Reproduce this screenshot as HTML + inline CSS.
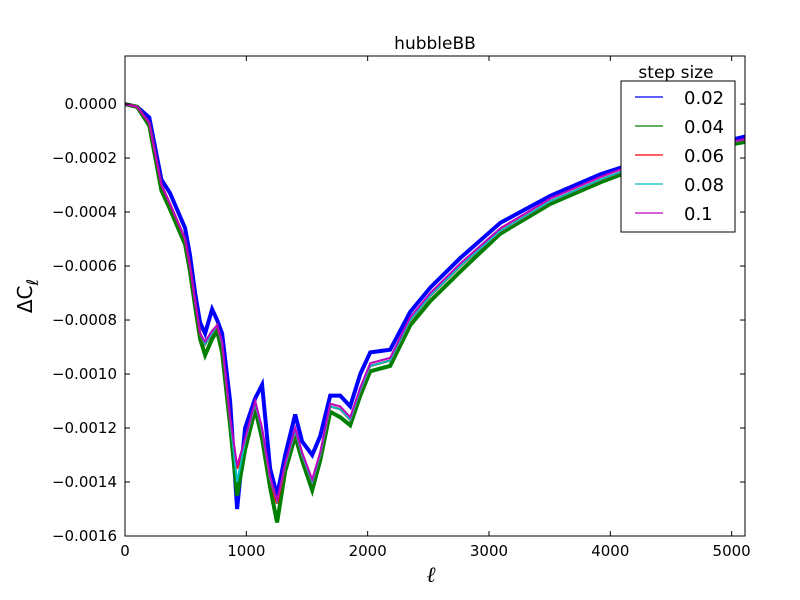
<!DOCTYPE html>
<html><head><meta charset="utf-8"><style>body{margin:0;background:#fff}svg{display:block;font-family:"DejaVu Sans","Liberation Sans",sans-serif}</style></head>
<body>
<svg id="chart" width="800" height="600" viewBox="0 0 800 600">
<rect width="800" height="600" fill="#fff"/>
<text x="435" y="49" font-size="17" text-anchor="middle">hubbleBB</text>
<g id="series"></g>
<g id="axes"></g>
<text x="431" y="582" font-size="22" font-style="italic" text-anchor="middle" font-family="DejaVu Serif, serif">ℓ</text>
<text transform="translate(32,296) rotate(-90)" font-size="20" text-anchor="middle">ΔC<tspan font-style="italic" font-size="16" dy="6">ℓ</tspan></text>
<g id="legend">
<text x="676" y="78" font-size="17" text-anchor="middle">step size</text>
<rect x="621" y="81" width="114" height="151" fill="#fff" stroke="#000" stroke-width="1"/>
</g>
</svg>
<script>
const ells =  [0,100,200,300,371,495,536,578,619,660,718,759,800,866,924,990,1073,1130,1196,1254,1320,1403,1460,1543,1609,1691,1774,1856,1939,2021,2186,2351,2516,2764,3094,3506,3919,4332,4744,5115];
const red =   [0,-0.00001,-0.00007,-0.0003,-0.00037,-0.0005,-0.0006,-0.00073,-0.00085,-0.00089,-0.00085,-0.00082,-0.00089,-0.00117,-0.00135,-0.00125,-0.00111,-0.00121,-0.00139,-0.00148,-0.00134,-0.00121,-0.0013,-0.0014,-0.0013,-0.00112,-0.00113,-0.00117,-0.00106,-0.00097,-0.00095,-0.0008,-0.00071,-0.0006,-0.00047,-0.00036,-0.00028,-0.00021,-0.00017,-0.00013];
const blue =  [0,-0.00001,-0.00005,-0.00028,-0.00033,-0.00046,-0.00056,-0.0007,-0.00081,-0.00085,-0.00076,-0.0008,-0.00085,-0.0011,-0.0015,-0.0012,-0.00109,-0.00104,-0.00135,-0.00145,-0.0013,-0.00115,-0.00125,-0.0013,-0.00123,-0.00108,-0.00108,-0.00112,-0.001,-0.00092,-0.00091,-0.00077,-0.00068,-0.00057,-0.00044,-0.00034,-0.00026,-0.0002,-0.00016,-0.00012];
const green = [0,-0.00001,-0.00008,-0.00032,-0.00039,-0.00052,-0.00062,-0.00075,-0.00087,-0.00093,-0.00087,-0.00084,-0.00092,-0.00119,-0.00145,-0.00128,-0.00113,-0.00124,-0.00142,-0.00155,-0.00136,-0.00123,-0.00132,-0.00143,-0.00132,-0.00114,-0.00116,-0.00119,-0.00108,-0.00099,-0.00097,-0.00082,-0.00073,-0.00062,-0.00048,-0.00037,-0.00029,-0.00022,-0.00017,-0.00014];
const cyan =  [0,-0.00001,-0.00007,-0.0003,-0.00037,-0.0005,-0.0006,-0.00073,-0.00085,-0.00089,-0.00085,-0.00082,-0.00089,-0.00117,-0.0014,-0.00125,-0.00111,-0.00121,-0.00139,-0.00147,-0.00134,-0.00121,-0.0013,-0.0014,-0.0013,-0.00112,-0.00113,-0.00117,-0.00106,-0.00097,-0.00095,-0.0008,-0.00071,-0.0006,-0.00047,-0.00036,-0.00028,-0.00021,-0.00017,-0.00013];
const magenta=[0,-0.00001,-0.00007,-0.0003,-0.00037,-0.0005,-0.0006,-0.00073,-0.00085,-0.00088,-0.00084,-0.00082,-0.00088,-0.00116,-0.00134,-0.00124,-0.0011,-0.0012,-0.00138,-0.00147,-0.00133,-0.0012,-0.00129,-0.00139,-0.00129,-0.00111,-0.00112,-0.00116,-0.00105,-0.00096,-0.00094,-0.00079,-0.0007,-0.00059,-0.00046,-0.00035,-0.00027,-0.0002,-0.00016,-0.00013];
const legendLabels = ["0.02","0.04","0.06","0.08","0.1"];
const colors = ["#0000ff","#008000","#ff0000","#00bfbf","#bf00bf"];
const xTicks = [0,1000,2000,3000,4000,5000];
const yTicks = [0,-0.0002,-0.0004,-0.0006,-0.0008,-0.001,-0.0012,-0.0014,-0.0016];

const L=125,R=745,T=56,B=536, xMin=0,xMax=5110,yMax=0.000178,yMin=-0.0016;
const sx=v=>L+(v-xMin)/(xMax-xMin)*(R-L);
const sy=v=>T+(yMax-v)/(yMax-yMin)*(B-T);
const NS="http://www.w3.org/2000/svg";
const sg=document.getElementById('series'), ax=document.getElementById('axes'), lg=document.getElementById('legend');
function mk(t,a,p){const e=document.createElementNS(NS,t);for(const k in a)e.setAttribute(k,a[k]);p.appendChild(e);return e;}

const clip=mk('clipPath',{id:'pc'},document.getElementById('chart'));
mk('rect',{x:L,y:T,width:R-L,height:B-T},clip);
sg.setAttribute('clip-path','url(#pc)');

const all=[blue,green,red,cyan,magenta], widths=[4,4,2.5,2,2], names=['series-0.02','series-0.04','series-0.06','series-0.08','series-0.1'];
all.forEach((s,i)=>{
  let d='';
  s.forEach((v,j)=>{d+=(j?'L':'M')+sx(ells[j]).toFixed(1)+','+sy(v).toFixed(1);});
  const p=mk('path',{d:d,fill:'none',stroke:colors[i],'stroke-width':widths[i],'stroke-linejoin':'miter'},sg);
  
  
});

const frame=mk('rect',{x:L,y:T,width:R-L,height:B-T,fill:'none',stroke:'#000','stroke-width':1},ax);


xTicks.forEach(v=>{
  const x=sx(v);
  mk('line',{x1:x,y1:B,x2:x,y2:B-5,stroke:'#000'},ax);
  mk('line',{x1:x,y1:T,x2:x,y2:T+5,stroke:'#000'},ax);
  const t=mk('text',{x:x,y:B+20,'font-size':15,'text-anchor':'middle'},ax);
  t.textContent=String(v);
  
  
});
yTicks.forEach(v=>{
  const y=sy(v);
  mk('line',{x1:L,y1:y,x2:L+5,y2:y,stroke:'#000'},ax);
  mk('line',{x1:R,y1:y,x2:R-5,y2:y,stroke:'#000'},ax);
  const t=mk('text',{x:L-8,y:y+5,'font-size':15,'text-anchor':'end'},ax);
  t.textContent=(v===0?'0.0000':'\u2212'+Math.abs(v).toFixed(4));
  
  
});

legendLabels.forEach((lab,i)=>{
  const y=97+i*29;
  const g=mk('g',{},lg);
  
  
  mk('line',{x1:635,y1:y,x2:663,y2:y,stroke:colors[i],'stroke-width':1.2},g);
  const t=mk('text',{x:684,y:y+7,'font-size':18},g);
  t.textContent=lab;
});
</script>
</body></html>
